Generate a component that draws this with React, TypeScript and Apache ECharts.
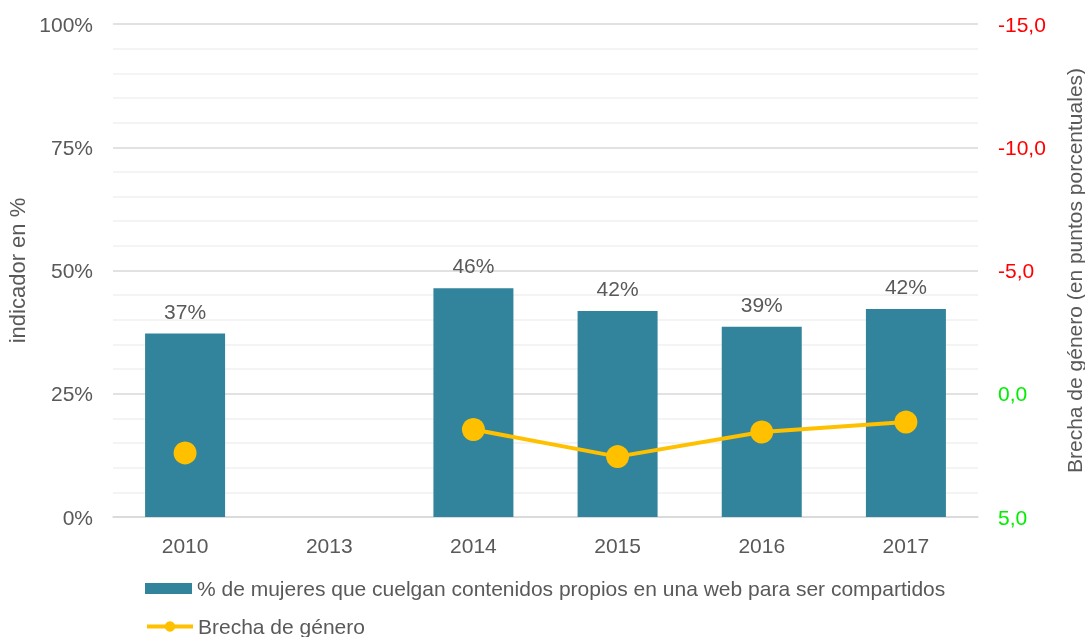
import React, { useEffect, useRef } from "react";
import * as echarts from "echarts";

const categories = ["2010", "2013", "2014", "2015", "2016", "2017"];
const womenShare = [37.2, null, 46.4, 41.8, 38.6, 42.2];
const genderGap = [2.4, null, 1.45, 2.55, 1.55, 1.15];
const leftTicks = { min: 0, max: 100, interval: 25 };
const rightTicks = { min: -15, max: 5, interval: 5 };

const BAR_NAME = "% de mujeres que cuelgan contenidos propios en una web para ser compartidos";
const LINE_NAME = "Brecha de género";

export default function App() {
  const ref = useRef<HTMLDivElement>(null);
  useEffect(() => {
    document.body.style.margin = "0";
    if (!ref.current) return;
    const chart = echarts.init(ref.current, undefined, { renderer: "svg" });
    const font = "'Liberation Sans', Arial, sans-serif";
    const grey = "#595959";
    const legendText = { fontSize: 21, color: grey, fontFamily: font };
    chart.setOption({
      animation: false,
      textStyle: { fontFamily: font },
      grid: {
        left: 113,
        right: 107,
        top: 24,
        bottom: 120,
        containLabel: false,
        outerBoundsMode: "none",
      },
      legend: [
        {
          orient: "vertical",
          left: 145,
          top: 578,
          padding: 0,
          itemWidth: 47,
          itemHeight: 11,
          textStyle: legendText,
          data: [{ name: BAR_NAME, icon: "rect" }],
        },
        {
          orient: "vertical",
          left: 145,
          top: 616,
          padding: 0,
          itemWidth: 46,
          itemHeight: 13,
          textStyle: legendText,
          lineStyle: { width: 4 },
          data: [{ name: LINE_NAME }],
        },
      ],
      xAxis: {
        type: "category",
        data: categories,
        axisTick: { show: false },
        axisLine: { lineStyle: { color: "#d9d9d9", width: 1.5 } },
        axisLabel: { color: grey, fontSize: 21, margin: 18, fontFamily: font },
      },
      yAxis: [
        {
          type: "value",
          min: leftTicks.min,
          max: leftTicks.max,
          interval: leftTicks.interval,
          name: "indicador en %",
          nameLocation: "middle",
          nameGap: 80,
          nameTextStyle: { color: grey, fontSize: 22, fontFamily: font },
          axisLabel: { color: grey, fontSize: 21, margin: 20, formatter: "{value}%", fontFamily: font },
          axisLine: { show: false },
          axisTick: { show: false },
          splitLine: { lineStyle: { color: "#d9d9d9", width: 1.5 } },
          minorTick: { show: false, splitNumber: 5 },
          minorSplitLine: { show: true, lineStyle: { color: "#f0f0f0", width: 1.5 } },
        },
        {
          type: "value",
          min: rightTicks.min,
          max: rightTicks.max,
          interval: rightTicks.interval,
          inverse: true,
          position: "right",
          name: "Brecha de género (en puntos porcentuales)",
          nameLocation: "middle",
          nameGap: 86,
          nameRotate: 90,
          nameTextStyle: { color: grey, fontSize: 21, fontFamily: font },
          axisLabel: {
            fontSize: 21,
            margin: 20,
            fontFamily: font,
            formatter: (v: number) => (Math.abs(v) < 1e-9 ? 0 : v).toFixed(1).replace(".", ","),
            color: (v: any) => (Number(v) < 0 ? "#ff0000" : "#00ee00"),
          },
          axisLine: { show: false },
          axisTick: { show: false },
          splitLine: { show: false },
        },
      ],
      series: [
        {
          name: BAR_NAME,
          type: "bar",
          data: womenShare,
          barWidth: 80,
          itemStyle: { color: "#31849b" },
          label: {
            show: true,
            position: "top",
            distance: 12,
            color: grey,
            fontSize: 21,
            fontFamily: font,
            formatter: (p: any) => Math.round(p.value) + "%",
          },
        },
        {
          name: LINE_NAME,
          type: "line",
          yAxisIndex: 1,
          data: genderGap,
          connectNulls: false,
          symbol: "circle",
          symbolSize: 23,
          lineStyle: { color: "#ffc000", width: 4 },
          itemStyle: { color: "#ffc000" },
        },
      ],
    });
    return () => chart.dispose();
  }, []);
  return (
    <div
      ref={ref}
      style={{ width: 1085, height: 637, position: "fixed", left: 0, top: 0 }}
    />
  );
}
